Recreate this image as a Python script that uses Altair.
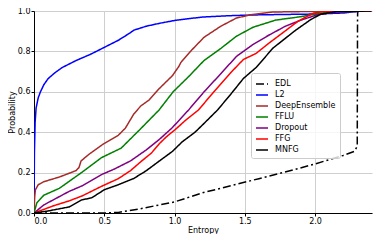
import altair as alt
import pandas as pd

methods = ["EDL", "L2", "DeepEnsemble", "FFLU", "Dropout", "FFG", "MNFG"]
colors = ["#000000", "#0000ff", "#a52a2a", "#008000", "#800080", "#ff0000", "#000000"]
dashes = [[8, 3, 2, 3], [1, 0], [1, 0], [1, 0], [1, 0], [1, 0], [1, 0]]

edl_x = [0.0, 0.5, 0.6, 0.75, 1.0, 1.2, 1.4, 1.6, 1.8, 2.0, 2.2, 2.28, 2.3, 2.302, 2.303]
edl_y = [0.0, 0.0, 0.003, 0.02, 0.055, 0.1, 0.135, 0.17, 0.205, 0.243, 0.285, 0.305, 0.33, 0.95, 1.0]

l2_x = [0.0, 0.003, 0.008, 0.015, 0.03, 0.046, 0.07, 0.1, 0.15, 0.2, 0.3, 0.4, 0.5, 0.6, 0.68,
        0.71, 0.8, 0.9, 1.0, 1.1, 1.2, 1.4, 1.6, 1.8, 2.0, 2.2, 2.3, 2.4]
l2_y = [0.0, 0.3, 0.45, 0.52, 0.57, 0.6, 0.635, 0.665, 0.695, 0.72, 0.755, 0.785, 0.82, 0.855, 0.89,
        0.905, 0.925, 0.94, 0.953, 0.962, 0.97, 0.977, 0.981, 0.983, 0.985, 0.99, 0.998, 1.0]

de_x = [0.0, 0.005, 0.01, 0.03, 0.07, 0.18, 0.3, 0.32, 0.335, 0.39, 0.49, 0.6, 0.65, 0.71, 0.76,
        0.82, 0.89, 0.985, 1.03, 1.045, 1.12, 1.21, 1.33, 1.44, 1.54, 1.7, 2.0, 2.4]
de_y = [0.0, 0.08, 0.115, 0.14, 0.155, 0.178, 0.21, 0.225, 0.258, 0.29, 0.34, 0.385, 0.42, 0.49, 0.53,
        0.56, 0.615, 0.68, 0.725, 0.745, 0.805, 0.87, 0.925, 0.965, 0.981, 0.995, 0.998, 1.0]

fflu_x = [0.0, 0.02, 0.07, 0.18, 0.344, 0.48, 0.62, 0.756, 0.89, 0.99, 1.1, 1.21, 1.33, 1.44, 1.56,
          1.72, 1.9, 2.0, 2.1, 2.4]
fflu_y = [0.0, 0.05, 0.088, 0.122, 0.203, 0.274, 0.321, 0.415, 0.51, 0.6, 0.675, 0.755, 0.815, 0.875, 0.92,
          0.955, 0.972, 0.985, 0.995, 1.0]

drop_x = [0.0, 0.07, 0.25, 0.344, 0.48, 0.573, 0.687, 0.8, 0.893, 0.985, 1.1, 1.21, 1.33, 1.44, 1.56,
          1.67, 1.79, 1.9, 2.01, 2.15, 2.4]
drop_y = [0.0, 0.04, 0.107, 0.135, 0.19, 0.218, 0.258, 0.313, 0.365, 0.423, 0.51, 0.6, 0.69, 0.775, 0.835,
          0.88, 0.925, 0.955, 0.98, 0.995, 1.0]

ffg_x = [0.0, 0.07, 0.14, 0.25, 0.344, 0.48, 0.6, 0.687, 0.767, 0.836, 0.893, 0.94, 1.008, 1.08, 1.17,
         1.28, 1.4, 1.49, 1.58, 1.67, 1.76, 1.88, 1.99, 2.06, 2.4]
ffg_y = [0.0, 0.018, 0.036, 0.06, 0.085, 0.132, 0.17, 0.21, 0.258, 0.297, 0.344, 0.376, 0.415, 0.46, 0.51,
         0.6, 0.695, 0.76, 0.79, 0.84, 0.887, 0.95, 0.99, 0.997, 1.0]

mnfg_x = [0.0, 0.1, 0.25, 0.34, 0.41, 0.5, 0.6, 0.71, 0.8, 0.893, 0.985, 1.054, 1.146, 1.215, 1.306,
          1.4, 1.49, 1.58, 1.7, 1.856, 1.97, 2.04, 2.15, 2.4]
mnfg_y = [0.0, 0.01, 0.03, 0.065, 0.075, 0.115, 0.14, 0.171, 0.21, 0.258, 0.305, 0.352, 0.4, 0.447, 0.51,
          0.588, 0.666, 0.72, 0.816, 0.902, 0.958, 0.984, 0.997, 1.0]

x_ticks = [0.0, 0.5, 1.0, 1.5, 2.0]
y_ticks = [0.0, 0.2, 0.4, 0.6, 0.8, 1.0]

series = {
    "EDL": (edl_x, edl_y), "L2": (l2_x, l2_y), "DeepEnsemble": (de_x, de_y),
    "FFLU": (fflu_x, fflu_y), "Dropout": (drop_x, drop_y), "FFG": (ffg_x, ffg_y),
    "MNFG": (mnfg_x, mnfg_y),
}
rows = []
for m in methods:
    xs, ys = series[m]
    for i, (a, b) in enumerate(zip(xs, ys)):
        rows.append({"method": m, "entropy": a, "prob": b, "idx": i})
df = pd.DataFrame(rows)

FONT = "DejaVu Sans"

legend = alt.Legend(
    title=None, orient="none", legendX=217, legendY=62,
    symbolType="stroke", symbolSize=144, symbolStrokeWidth=1.5,
    labelFont=FONT, labelFontSize=8, labelColor="#000000", labelOffset=6,
    rowPadding=-2, padding=4, strokeColor="#cccccc", fillColor="rgba(255,255,255,0.8)",
    cornerRadius=2,
)

chart = alt.Chart(df).mark_line(strokeWidth=1.5, clip=True).encode(
    x=alt.X("entropy:Q", scale=alt.Scale(domain=[0, 2.405], nice=False, zero=False),
            axis=alt.Axis(title="Entropy", values=x_ticks, format=".1f")),
    y=alt.Y("prob:Q", scale=alt.Scale(domain=[0, 1], nice=False),
            axis=alt.Axis(title="Probability", values=y_ticks, format=".1f")),
    color=alt.Color("method:N", scale=alt.Scale(domain=methods, range=colors), legend=legend),
    strokeDash=alt.StrokeDash("method:N", scale=alt.Scale(domain=methods, range=dashes), legend=legend),
    order="idx:Q",
).properties(
    width=365, height=226,
    autosize=alt.AutoSizeParams(type="fit", contains="padding"),
    padding={"left": 0, "top": -1, "right": 1, "bottom": 0},
).configure_view(stroke=None).configure_axis(
    labelFont=FONT, titleFont=FONT, labelFontSize=8, titleFontSize=8,
    titleFontWeight="normal", labelColor="#000000", titleColor="#000000",
    domainColor="#000000", domainWidth=1, tickColor="#000000", tickSize=3,
    gridColor="#cfcfcf", gridWidth=1, labelPadding=1, titlePadding=1,
)

chart.save("out.html", embed_options={"renderer": "svg", "actions": False})
